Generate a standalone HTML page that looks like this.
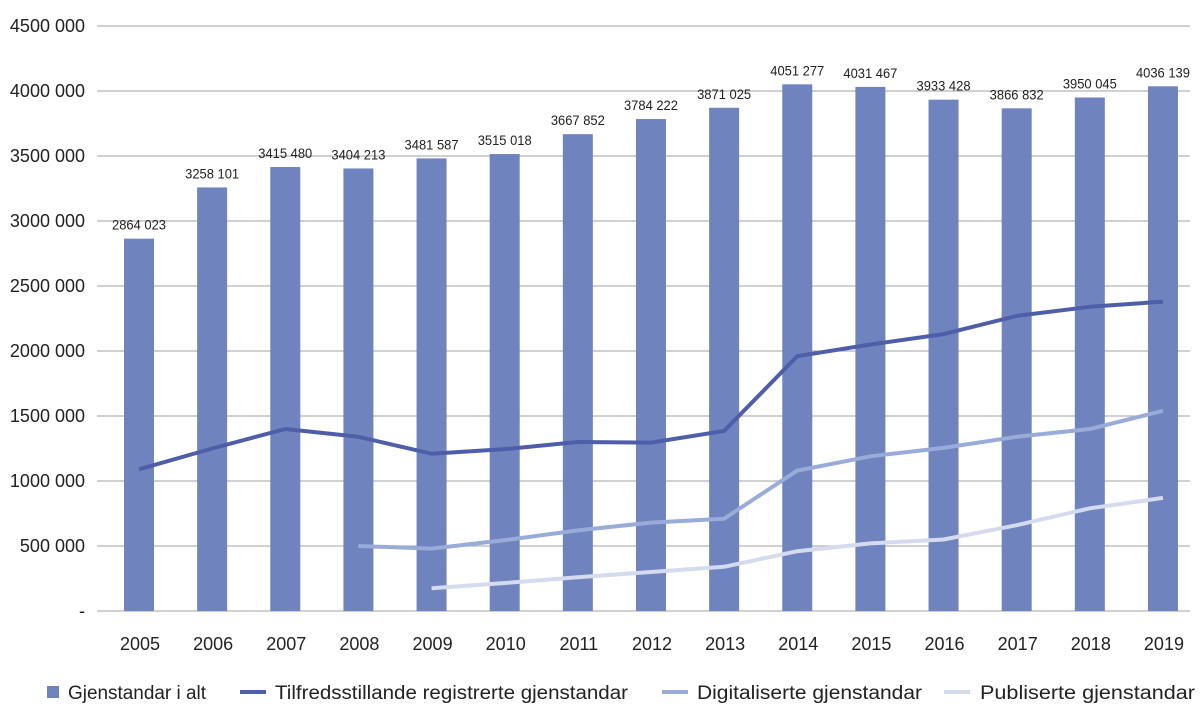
<!DOCTYPE html>
<html><head><meta charset="utf-8"><style>
body{margin:0;background:#fff;font-family:"Liberation Sans",sans-serif}
svg text{font-family:"Liberation Sans",sans-serif}
</style></head><body>
<svg width="1200" height="723">
<g id="grid"></g><g id="bars"></g><g id="lines"></g><g id="labels"></g>
<g id="legend"></g>
</svg>
<script>
const years=["2005","2006","2007","2008","2009","2010","2011","2012","2013","2014","2015","2016","2017","2018","2019"];
const totals=[2864023,3258101,3415480,3404213,3481587,3515018,3667852,3784222,3871025,4051277,4031467,3933428,3866832,3950045,4036139];
const totalLabels=["2864 023","3258 101","3415 480","3404 213","3481 587","3515 018","3667 852","3784 222","3871 025","4051 277","4031 467","3933 428","3866 832","3950 045","4036 139"];
const registered=[1090000,1250000,1400000,1340000,1210000,1245000,1300000,1295000,1385000,1960000,2050000,2130000,2270000,2340000,2380000];
const digital=[null,null,null,500000,480000,545000,620000,680000,710000,1080000,1190000,1255000,1340000,1400000,1540000];
const published=[null,null,null,null,175000,215000,260000,300000,340000,460000,520000,550000,660000,790000,870000];
const yTicks=[0,500000,1000000,1500000,2000000,2500000,3000000,3500000,4000000,4500000];
const yTickLabels=["-","500 000","1000 000","1500 000","2000 000","2500 000","3000 000","3500 000","4000 000","4500 000"];
const NS="http://www.w3.org/2000/svg";
const y=v=>611-v/1000000*130;
const x=i=>139+i*73.14;
function mk(p,t,a){const e=document.createElementNS(NS,t);for(const k in a)e.setAttribute(k,a[k]);document.getElementById(p).appendChild(e);return e;}
yTicks.forEach((v,i)=>{
 const l=mk('grid','line',{x1:97,x2:1190,y1:y(v),y2:y(v),stroke:'#b3b3b3','stroke-width':1.3});
 
 
 const t=mk('grid','text',{x:85,y:y(v)+6,'text-anchor':'end','font-size':18,fill:'#222'});
 t.textContent=yTickLabels[i];
 
 
});
years.forEach((yr,i)=>{
 const r=mk('bars','rect',{x:x(i)-15,y:y(totals[i]),width:30,height:611-y(totals[i]),fill:'#6f83bf'});
 
 
 const t=mk('labels','text',{x:x(i),y:y(totals[i])-9,'text-anchor':'middle','font-size':14,fill:'#222',textLength:54,lengthAdjust:'spacingAndGlyphs'});
 t.textContent=totalLabels[i];
 
 
 const xt=mk('labels','text',{x:x(i)+1,y:650,'text-anchor':'middle','font-size':18,fill:'#222'});
 xt.textContent=yr;
 
 
});
function line(data,color,name){
 const pts=data.map((v,i)=>v==null?null:x(i)+','+y(v)).filter(p=>p);
 const p=mk('lines','polyline',{points:pts.join(' '),fill:'none',stroke:color,'stroke-width':4,'stroke-linejoin':'round'});
 
 
}
line(registered,'#4f5ea8','registered-line');
line(digital,'#98abd9','digitised-line');
line(published,'#d4dbef','published-line');
const leg=[['rect','#6f83bf','Gjenstandar i alt',47,68,138],['line','#4f5ea8','Tilfredsstillande registrerte gjenstandar',240,275,353],['line','#98abd9','Digitaliserte gjenstandar',662,697,225],['line','#d4dbef','Publiserte gjenstandar',944,980,215]];
leg.forEach(([k,c,txt,lx,tx,tl])=>{
 let m;
 if(k==='rect') m=mk('legend','rect',{x:lx,y:686,width:12,height:12,fill:c});
 else m=mk('legend','line',{x1:lx,x2:lx+26,y1:692,y2:692,stroke:c,'stroke-width':4});
 
 
 const t=mk('legend','text',{x:tx,y:699,'font-size':19,fill:'#222',textLength:tl,lengthAdjust:'spacingAndGlyphs'});
 t.textContent=txt;
 
 
});
</script>
</body></html>
